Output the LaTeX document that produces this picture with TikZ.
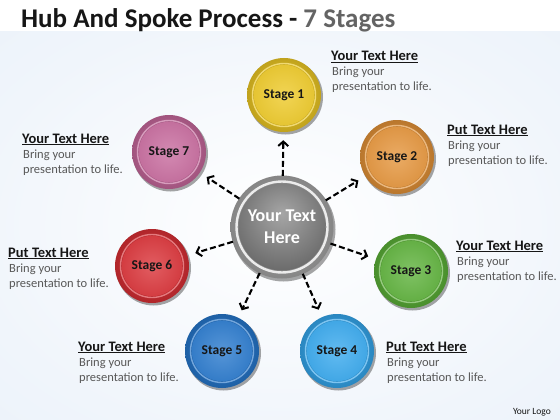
\documentclass[tikz,border=0pt]{standalone}
\usepackage{fontspec}
\setmainfont{Carlito}
\usetikzlibrary{arrows.meta,calc}
\definecolor{bgblue}{RGB}{222,234,247}
\definecolor{bgmid}{RGB}{240,245,251}
\definecolor{c1}{RGB}{236,196,18}
\definecolor{c2}{RGB}{226,138,40}
\definecolor{c3}{RGB}{78,170,40}
\definecolor{c4}{RGB}{36,160,236}
\definecolor{c5}{RGB}{20,108,200}
\definecolor{c6}{RGB}{214,30,36}
\definecolor{c7}{RGB}{194,92,148}
\definecolor{bodygray}{RGB}{88,88,88}
\definecolor{headdark}{RGB}{22,22,22}
\definecolor{titlegray}{RGB}{100,100,100}
\colorlet{shA}{white}
\colorlet{shB}{black}
\pgfdeclareradialshading[shA,shB]{discshade}{\pgfpoint{0bp}{0bp}}{color(0bp)=(shA); color(50bp)=(shB); color(72bp)=(shB)}
\pgfdeclareradialshading{bgshade}{\pgfpoint{0bp}{0bp}}{color(0bp)=(white); color(28bp)=(bgmid); color(72bp)=(bgblue)}
\pgfdeclareradialshading{hubshade}{\pgfpoint{0bp}{8bp}}{color(0bp)=(gray!70); color(30bp)=(black!58); color(50bp)=(black!78); color(72bp)=(black!78)}
\pgfdeclareradialshading{hubrim}{\pgfpoint{0bp}{0bp}}{color(0bp)=(gray!70); color(40bp)=(black!55); color(50bp)=(black!80); color(72bp)=(black!80)}
\tikzset{
  stagedisk/.style={circle, minimum size=74pt, inner sep=0pt,
    font=\bfseries\fontsize{13.5}{15}\selectfont, text=headdark},
  hubdisk/.style={circle, minimum size=102pt, inner sep=0pt, align=center,
    font=\bfseries\fontsize{18}{22}\selectfont, text=white},
  spoke/.style={draw=black, line width=2.1pt, dash pattern=on 6pt off 3pt,
    -{Straight Barb[length=4.5pt,width=10pt,line width=2pt]}, shorten >=8pt},
  heading/.style={anchor=base west, inner sep=0pt,
    font=\bfseries\fontsize{14.5}{17}\selectfont, text=headdark},
  bodytext/.style={anchor=base west, inner sep=0pt,
    font=\fontsize{12.5}{15}\selectfont, text=bodygray},
}
\newcommand\drawstage[4]{%
  \fill[black, opacity=0.35] (#2) ++(1.5,2) circle (37.5pt);
  \colorlet{shA}{#3!88!white}\colorlet{shB}{#3!62!black}
  \shade[shading=discshade] (#2) circle (37pt);
  \draw[#3!55!white, line width=1.4pt, opacity=0.9] (#2) circle (31.5pt);
  \colorlet{shA}{#3!72!white}\colorlet{shB}{#3!92!black}
  \shade[shading=discshade] (#2) circle (30.2pt);
  \node[stagedisk] (#1) at (#2) {#4};
}
\newcommand\textblock[3]{%
  \node[heading] (#1h) at (#2) {\underline{#3}};
  \node[bodytext] (#1b) at ($(#2)+(1,15)$) {Bring your};
  \node[bodytext] (#1c) at ($(#2)+(1,30)$) {presentation to life.};
}
\begin{document}
\begin{tikzpicture}[x=1pt,y=-1pt]
\useasboundingbox (0,0) rectangle (560,420);
\shade[shading=bgshade] (0,31) rectangle (560,420);
\fill[white] (0,0) rectangle (560,31);
\node[anchor=base west, inner sep=0pt, font=\bfseries\fontsize{27}{30}\selectfont, text=headdark]
  (title) at (21,28) {Hub And Spoke Process - \textcolor{titlegray}{7 Stages}};
\node[anchor=base east, inner sep=0pt, font=\fontsize{9.5}{11}\selectfont, text=headdark]
  (logo) at (551,414) {Your Logo};
% hub
\fill[black, opacity=0.35] (282,227) ++(1.5,2.5) circle (52pt);
\shade[shading=hubrim] (282,227) circle (51.5pt);
\draw[white!85!gray, line width=2.4pt] (282,227) circle (45.5pt);
\shade[shading=hubshade] (282,227) circle (43.5pt);
\node[hubdisk] (hub) at (282,227) {Your Text\\Here};
% stages
\drawstage{s1}{284,95}{c1}{Stage 1}
\drawstage{s2}{397,157}{c2}{Stage 2}
\drawstage{s3}{411,271}{c3}{Stage 3}
\drawstage{s4}{337,351}{c4}{Stage 4}
\drawstage{s5}{222,351}{c5}{Stage 5}
\drawstage{s6}{152,266}{c6}{Stage 6}
\drawstage{s7}{169,152}{c7}{Stage 7}
% spokes
\foreach \s in {s1,s2,s3,s4,s5,s6,s7} \draw[spoke] (hub) -- (\s);
% text blocks
\textblock{t1}{331,61}{Your Text Here}
\textblock{t2}{447,134}{Put Text Here}
\textblock{t3}{456,250}{Your Text Here}
\textblock{t4}{386,351}{Put Text Here}
\textblock{t5}{78,351}{Your Text Here}
\textblock{t6}{8,257}{Put Text Here}
\textblock{t7}{22,143}{Your Text Here}
\end{tikzpicture}
\end{document}
